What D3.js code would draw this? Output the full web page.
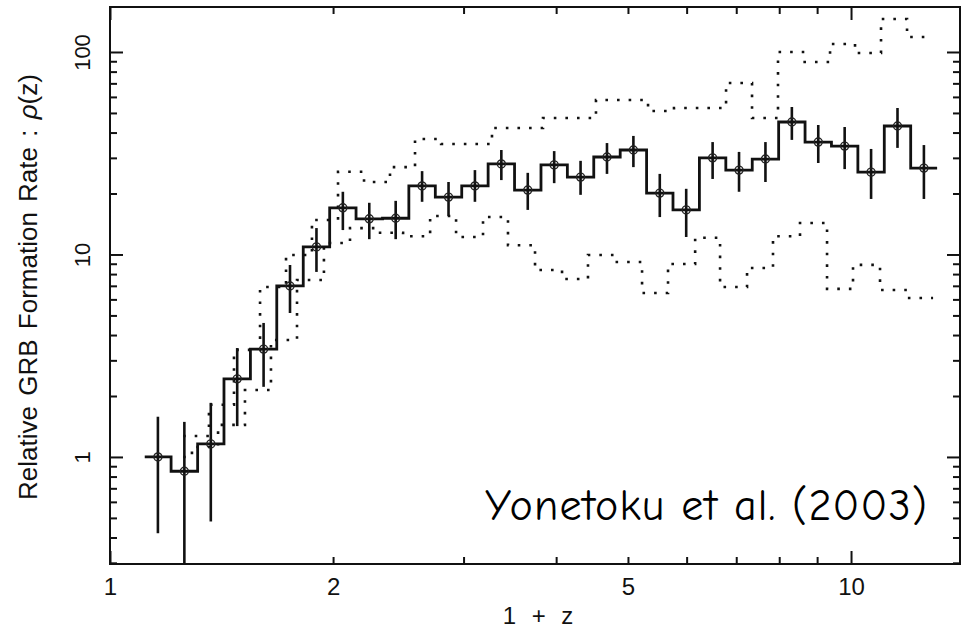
<!DOCTYPE html>
<html>
<head>
<meta charset="utf-8">
<script src="https://cdn.jsdelivr.net/npm/d3@7/dist/d3.min.js"></script>
<style>
  body { margin: 0; background: #fff; }
  svg { display: block; }
</style>
</head>
<body>
<div id="chart"></div>
<script>
// measured GRB formation rate, histogram bins in (1+z)
var binEdges = [1.114, 1.209, 1.313, 1.425, 1.547, 1.679, 1.823, 1.979, 2.148, 2.332,
                2.531, 2.748, 2.983, 3.238, 3.515, 3.816, 4.142, 4.496, 4.881, 5.298,
                5.751, 6.243, 6.777, 7.357, 7.986, 8.669, 9.410, 10.215, 11.089, 12.037, 13.067];
var rate   = [1.0, 0.85, 1.16, 2.43, 3.41, 6.99, 10.9, 17.0, 15.0, 15.1,
              21.8, 19.2, 21.8, 28.0, 20.8, 27.7, 24.1, 30.3, 32.8, 20.1,
              16.6, 30.0, 26.1, 29.6, 45.1, 35.9, 34.3, 25.5, 43.1, 26.7];
var rateHi = [1.58, 1.49, 1.85, 3.45, 4.59, 8.87, 13.5, 20.4, 18.0, 18.4,
              25.8, 22.8, 26.1, 32.8, 25.3, 32.4, 29.0, 35.5, 38.5, 25.0,
              21.1, 35.9, 32.1, 35.9, 53.5, 43.6, 42.6, 33.2, 52.9, 34.7];
var rateLo = [0.42, 0.2, 0.48, 1.42, 2.22, 5.14, 8.2, 13.2, 11.9, 11.9,
              18.2, 15.5, 18.2, 23.3, 16.6, 22.5, 19.7, 25.0, 27.0, 15.3,
              12.2, 23.6, 20.4, 22.8, 36.8, 28.3, 26.4, 18.8, 33.6, 18.8];

// dotted upper / lower bounds
var upperEdges = [1.255, 1.360, 1.470, 1.594, 1.728, 1.873, 2.031, 2.202, 2.387, 2.580,
                  2.798, 3.033, 3.277, 3.553, 3.840, 4.176, 4.527, 4.908, 5.322, 5.769,
                  6.255, 6.782, 7.352, 7.970, 8.614, 9.369, 10.125, 10.977, 11.901, 12.904];
var upperRate  = [1.27, 1.81, 3.38, 6.91, 9.94, 14.8, 25.6, 22.8, 27.0, 37.2,
                  35.1, 35.1, 42.1, 42.1, 47.2, 47.2, 57.9, 57.9, 51.1, 52.9,
                  52.9, 70.3, 47.2, 100, 89.3, 109.5, 98.9, 145.5, 118.6];
var lowerEdges = [1.255, 1.290, 1.399, 1.521, 1.649, 1.788, 1.944, 2.108, 2.292, 2.486,
                  2.704, 2.931, 3.187, 3.444, 3.746, 4.074, 4.416, 4.803, 5.224, 5.663,
                  6.161, 6.657, 7.239, 7.847, 8.534, 9.282, 10.062, 10.943, 11.901, 12.904];
var lowerRate  = [1.0, 1.12, 1.44, 2.14, 3.78, 7.48, 11.4, 13.5, 12.8, 12.3,
                  15.5, 12.2, 15.3, 11.1, 8.38, 7.57, 9.94, 9.18, 6.45, 8.98,
                  12.1, 6.91, 8.58, 12.3, 14.3, 6.76, 8.88, 6.68, 6.10];

var xLabels = [1, 2, 5, 10];
var xMajor  = [1, 10];
var xMinor  = [2, 3, 4, 5, 6, 7, 8, 9];
var yLabels = [1, 10, 100];
var yMinor  = [0.3, 0.4, 0.5, 0.6, 0.7, 0.8, 0.9, 2, 3, 4, 5, 6, 7, 8, 9,
               20, 30, 40, 50, 60, 70, 80, 90];

var width = 962, height = 629;
var margin = {top: 7, right: 2, bottom: 65, left: 110};
var w = width - margin.left - margin.right,
    h = height - margin.top - margin.bottom;

var svg = d3.select("#chart").append("svg")
    .attr("width", width)
    .attr("height", height);

var g = svg.append("g")
    .attr("transform", "translate(" + margin.left + "," + margin.top + ")");

var x = d3.scaleLog().domain([1, 14.03]).range([0, w]);
var y = d3.scaleLog().domain([0.296, 166.8]).range([h, 0]);

g.append("clipPath").attr("id", "clip")
  .append("rect").attr("width", w).attr("height", h);

var plot = g.append("g").attr("clip-path", "url(#clip)");

// step helper: edges has one more entry than vals
function steps(edges, vals) {
  var pts = vals.map(function(v, i) { return [edges[i], v]; });
  pts.push([edges[edges.length - 1], vals[vals.length - 1]]);
  return pts;
}
var stepLine = d3.line()
    .x(function(d) { return x(d[0]); })
    .y(function(d) { return y(d[1]); })
    .curve(d3.curveStepAfter);

// dotted bounds
[[upperEdges, upperRate], [lowerEdges, lowerRate]].forEach(function(s) {
  plot.append("path")
    .attr("d", stepLine(steps(s[0], s[1])))
    .attr("fill", "none")
    .attr("stroke", "#111")
    .attr("stroke-width", 2.6)
    .attr("stroke-dasharray", "2.6,9");
});

// solid histogram
plot.append("path")
  .attr("d", stepLine(steps(binEdges, rate)))
  .attr("fill", "none")
  .attr("stroke", "#111")
  .attr("stroke-width", 2.8);

var centers = rate.map(function(v, i) {
  return { x: Math.sqrt(binEdges[i] * binEdges[i + 1]), v: v, hi: rateHi[i], lo: rateLo[i] };
});

plot.selectAll(".err").data(centers).enter().append("line")
  .attr("class", "err")
  .attr("x1", function(d) { return x(d.x); })
  .attr("x2", function(d) { return x(d.x); })
  .attr("y1", function(d) { return y(d.hi); })
  .attr("y2", function(d) { return y(d.lo); })
  .attr("stroke", "#111")
  .attr("stroke-width", 2.6);

plot.selectAll(".pt").data(centers).enter().append("circle")
  .attr("class", "pt")
  .attr("cx", function(d) { return x(d.x); })
  .attr("cy", function(d) { return y(d.v); })
  .attr("r", 4)
  .attr("fill", "none")
  .attr("stroke", "#222")
  .attr("stroke-width", 1.4);

// ticks on all four sides, pointing in
function tickRow(axis, vals, len, tr) {
  g.append("g").attr("transform", tr)
    .call(axis.tickValues(vals).tickSize(-len).tickFormat(""))
    .call(function(s) { s.select(".domain").remove(); })
    .selectAll("line").attr("stroke", "#111").attr("stroke-width", 2);
}
tickRow(d3.axisBottom(x), xMajor, 13, "translate(0," + h + ")");
tickRow(d3.axisBottom(x), xMinor, 7, "translate(0," + h + ")");
tickRow(d3.axisTop(x), xMajor, 13, "translate(0,0)");
tickRow(d3.axisTop(x), xMinor, 7, "translate(0,0)");
tickRow(d3.axisLeft(y), yLabels, 13, "translate(0,0)");
tickRow(d3.axisLeft(y), yMinor, 7, "translate(0,0)");
tickRow(d3.axisRight(y), yLabels, 13, "translate(" + w + ",0)");
tickRow(d3.axisRight(y), yMinor, 7, "translate(" + w + ",0)");

// frame
g.append("rect")
  .attr("width", w).attr("height", h)
  .attr("fill", "none")
  .attr("stroke", "#111")
  .attr("stroke-width", 2);

// tick labels
var xl = g.append("g").attr("transform", "translate(0," + h + ")")
  .call(d3.axisBottom(x).tickValues(xLabels).tickSize(0).tickPadding(14).tickFormat(d3.format("d")));
xl.select(".domain").remove();
xl.selectAll("text")
  .style("font-family", "'Liberation Sans', Arial, sans-serif")
  .style("font-size", "24px")
  .attr("fill", "#111");

var yl = g.append("g")
  .call(d3.axisLeft(y).tickValues(yLabels).tickSize(0).tickFormat(d3.format("d")));
yl.select(".domain").remove();
yl.selectAll("text")
  .attr("x", null).attr("dy", null)
  .attr("text-anchor", "middle")
  .attr("transform", "translate(-20,0) rotate(-90)")
  .style("font-family", "'Liberation Sans', Arial, sans-serif")
  .style("font-size", "22px")
  .attr("fill", "#111");

// axis titles
var yt = svg.append("text")
  .attr("transform", "translate(37,287) rotate(-90)")
  .attr("text-anchor", "middle")
  .style("font-family", "'Liberation Sans', Arial, sans-serif")
  .style("font-size", "26px")
  .style("word-spacing", "3px")
  .attr("fill", "#111");
yt.append("tspan").text("Relative GRB Formation Rate : ");
yt.append("tspan").style("font-style", "italic").text("\u03c1");
yt.append("tspan").text("(z)");

svg.append("text")
  .attr("x", 538)
  .attr("y", 624)
  .attr("text-anchor", "middle")
  .style("font-family", "'Liberation Sans', Arial, sans-serif")
  .style("font-size", "24px")
  .style("word-spacing", "9px")
  .attr("fill", "#111")
  .text("1 + z");

// citation
svg.append("text")
  .attr("x", 485)
  .attr("y", 520)
  .attr("textLength", 442)
  .style("font-family", "'Comic Sans MS', 'Comic Neue', 'Open Sans', sans-serif")
  .style("font-size", "44px")
  .attr("fill", "#000")
  .text("Yonetoku et al. (2003)");
</script>
</body>
</html>
